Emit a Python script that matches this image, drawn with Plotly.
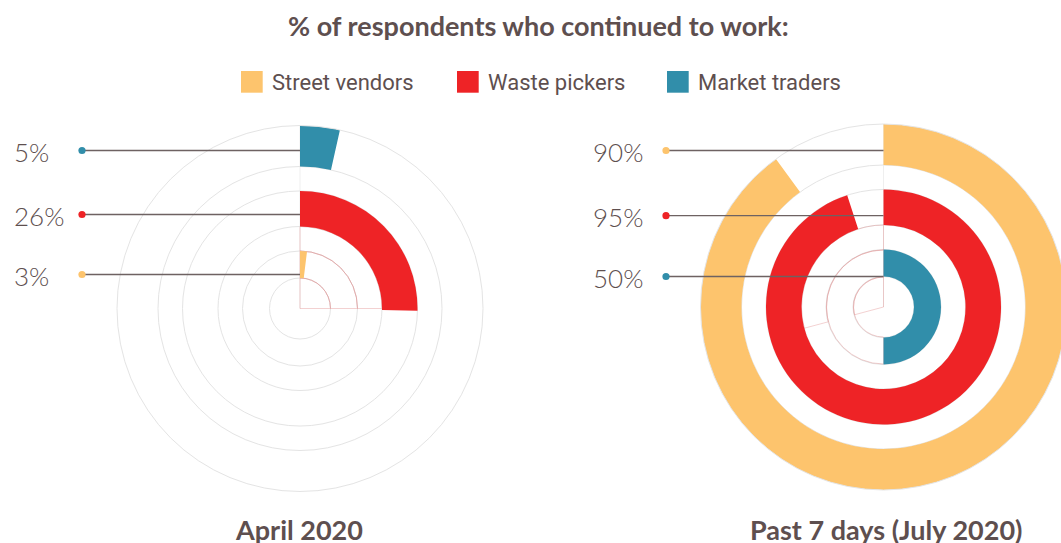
import plotly.graph_objects as go

# ---------------- data ----------------
categories = ["Street vendors", "Waste pickers", "Market traders"]
april_labels = [3, 26, 5]          # printed percentages
april_arc = [1.95, 25.3, 3.5]      # arc length drawn in the picture (% of full turn)
july_labels = [90, 95, 50]
july_arc = [90, 95, 50]
panel_titles = ["April 2020", "Past 7 days (July 2020)"]
title_text = "% of respondents who continued to work:"

# ---------------- style ----------------
W, H = 1070, 543   # a little wider than the window: the right chart is cut by the window edge
OFF = 0.0
COLORS = ["#fdc46d", "#ee2326", "#318eaa"]
TEXT = "#5e4f4f"
LEADER = "#6e6262"
GRID = "#e4e4e4"
GHOST = "rgba(226,140,140,0.5)"
RINGS = [(30.5, 57.5), (82.0, 117.5), (142.0, 183.0)]   # inner, middle, outer band
RMAX = 183.0
april_ring = [0, 1, 2]   # ring index per category
july_ring = [2, 1, 0]

panels = [
    dict(cx=300.0, cy=308.5, R=183.0, labels=april_labels, arc=april_arc, ring=april_ring,
         label_y={2: 150.5, 1: 214.5, 0: 274.5}, dot_x=82.0, text_x=12.0, anchor="left",
         title_x=299.0, sub="polar"),
    dict(cx=883.5, cy=307.0, R=183.0, labels=july_labels, arc=july_arc, ring=july_ring,
         label_y={2: 150.5, 1: 215.7, 0: 276.5}, dot_x=666.0, text_x=645.0, anchor="right",
         title_x=886.0, sub="polar2"),
]

fig = go.Figure()

# faint ghost outlines visible in the original rendering
ghosts = {
    "polar": [((0, 90), 0.0, 30.5), ((0, 90), 30.5, 57.5), ((0, 90), 57.5, 82.0)],
    "polar2": [((255, 360), 0.0, 30.0), ((180, 360), 30.0, 57.0), ((255, 360), 57.0, 82.0)],
}
for sub, items in ghosts.items():
    for (a0, a1), b0, b1 in items:
        fig.add_trace(go.Barpolar(
            theta=[(a0 + a1) / 2], width=[a1 - a0], base=[b0], r=[b1 - b0],
            marker=dict(color="rgba(0,0,0,0)", line=dict(color=GHOST, width=0.8)),
            subplot=sub, showlegend=False, hoverinfo="skip"))

for p in panels:
    for i, cat in enumerate(categories):
        lo, hi = RINGS[p["ring"][i]]
        ang = p["arc"][i] * 3.6
        fig.add_trace(go.Barpolar(
            theta=[ang / 2], width=[ang], base=[lo], r=[hi - lo],
            marker=dict(color=COLORS[i], line=dict(width=0)),
            name=cat, subplot=p["sub"], showlegend=False))

shapes = []
annotations = []


def px(x):
    return (x - OFF) / W


def py(y):
    return 1 - (y - OFF) / H


for p in panels:
    cx, cy, R = p["cx"] - OFF, p["cy"] - OFF, p["R"]
    dom = dict(x=[max(0, (cx - R) / W), min(1, (cx + R) / W)],
               y=[(H - cy - R) / H, (H - cy + R) / H])
    polar = dict(
        domain=dom, bgcolor="rgba(0,0,0,0)", barmode="overlay",
        radialaxis=dict(range=[0, RMAX], tickvals=[30.5, 57.5, 82, 117.5, 142],
                        showticklabels=False, ticks="", showline=False,
                        gridcolor=GRID, gridwidth=1),
        angularaxis=dict(rotation=90, direction="clockwise", showticklabels=False,
                         ticks="", tickvals=[0], showgrid=True, gridcolor="#efefef",
                         showline=True, linecolor=GRID, linewidth=1),
    )
    fig.update_layout(**{p["sub"]: polar})

    for i, cat in enumerate(categories):
        y = p["label_y"][p["ring"][i]]
        shapes.append(dict(type="line", xref="paper", yref="paper",
                           x0=px(p["dot_x"]), x1=px(p["cx"]), y0=py(y), y1=py(y),
                           line=dict(color=LEADER, width=1.3), layer="above"))
        shapes.append(dict(type="circle", xref="paper", yref="paper",
                           x0=px(p["dot_x"] - 3.6), x1=px(p["dot_x"] + 3.6),
                           y0=py(y + 3.6), y1=py(y - 3.6),
                           fillcolor=COLORS[i], line=dict(width=0), layer="above"))
        annotations.append(dict(text=f"{p['labels'][i]}%", xref="paper", yref="paper",
                                x=px(p["text_x"]), y=py(y + 1), xanchor=p["anchor"],
                                yanchor="middle", showarrow=False,
                                font=dict(family="Lato", size=26, color=TEXT, weight=300)))

# panel titles
for p, t in zip(panels, panel_titles):
    annotations.append(dict(text=f"<b>{t}</b>", xref="paper", yref="paper",
                            x=px(p["title_x"]), y=py(529), xanchor="center", yanchor="middle",
                            showarrow=False, font=dict(family="Lato", size=27, color=TEXT)))

# main title
annotations.append(dict(text=f"<b>{title_text}</b>", xref="paper", yref="paper",
                        x=px(538), y=py(26), xanchor="center", yanchor="middle",
                        showarrow=False, font=dict(family="Lato", size=27, color=TEXT)))

# custom legend
leg_sq_x = [241.0, 457.0, 667.0]
for i, cat in enumerate(categories):
    x0 = leg_sq_x[i]
    shapes.append(dict(type="rect", xref="paper", yref="paper",
                       x0=px(x0), x1=px(x0 + 21.7), y0=py(92.7), y1=py(71),
                       fillcolor=COLORS[i], line=dict(width=0)))
    annotations.append(dict(text=cat, xref="paper", yref="paper",
                            x=px(x0 + 28.5), y=py(82.5), xanchor="left", yanchor="middle",
                            showarrow=False, font=dict(family="Roboto", size=22, color=TEXT)))

fig.update_layout(
    width=W, height=H, margin=dict(l=0, r=0, t=0, b=0),
    paper_bgcolor="white", plot_bgcolor="white",
    shapes=shapes, annotations=annotations, showlegend=False,
)

fig.write_html(
    "out.html",
    config={"displayModeBar": False},
    post_script="document.documentElement.style.overflow='hidden';"
                "document.body.style.overflow='hidden';"
                "document.body.style.margin='0px';",
)
